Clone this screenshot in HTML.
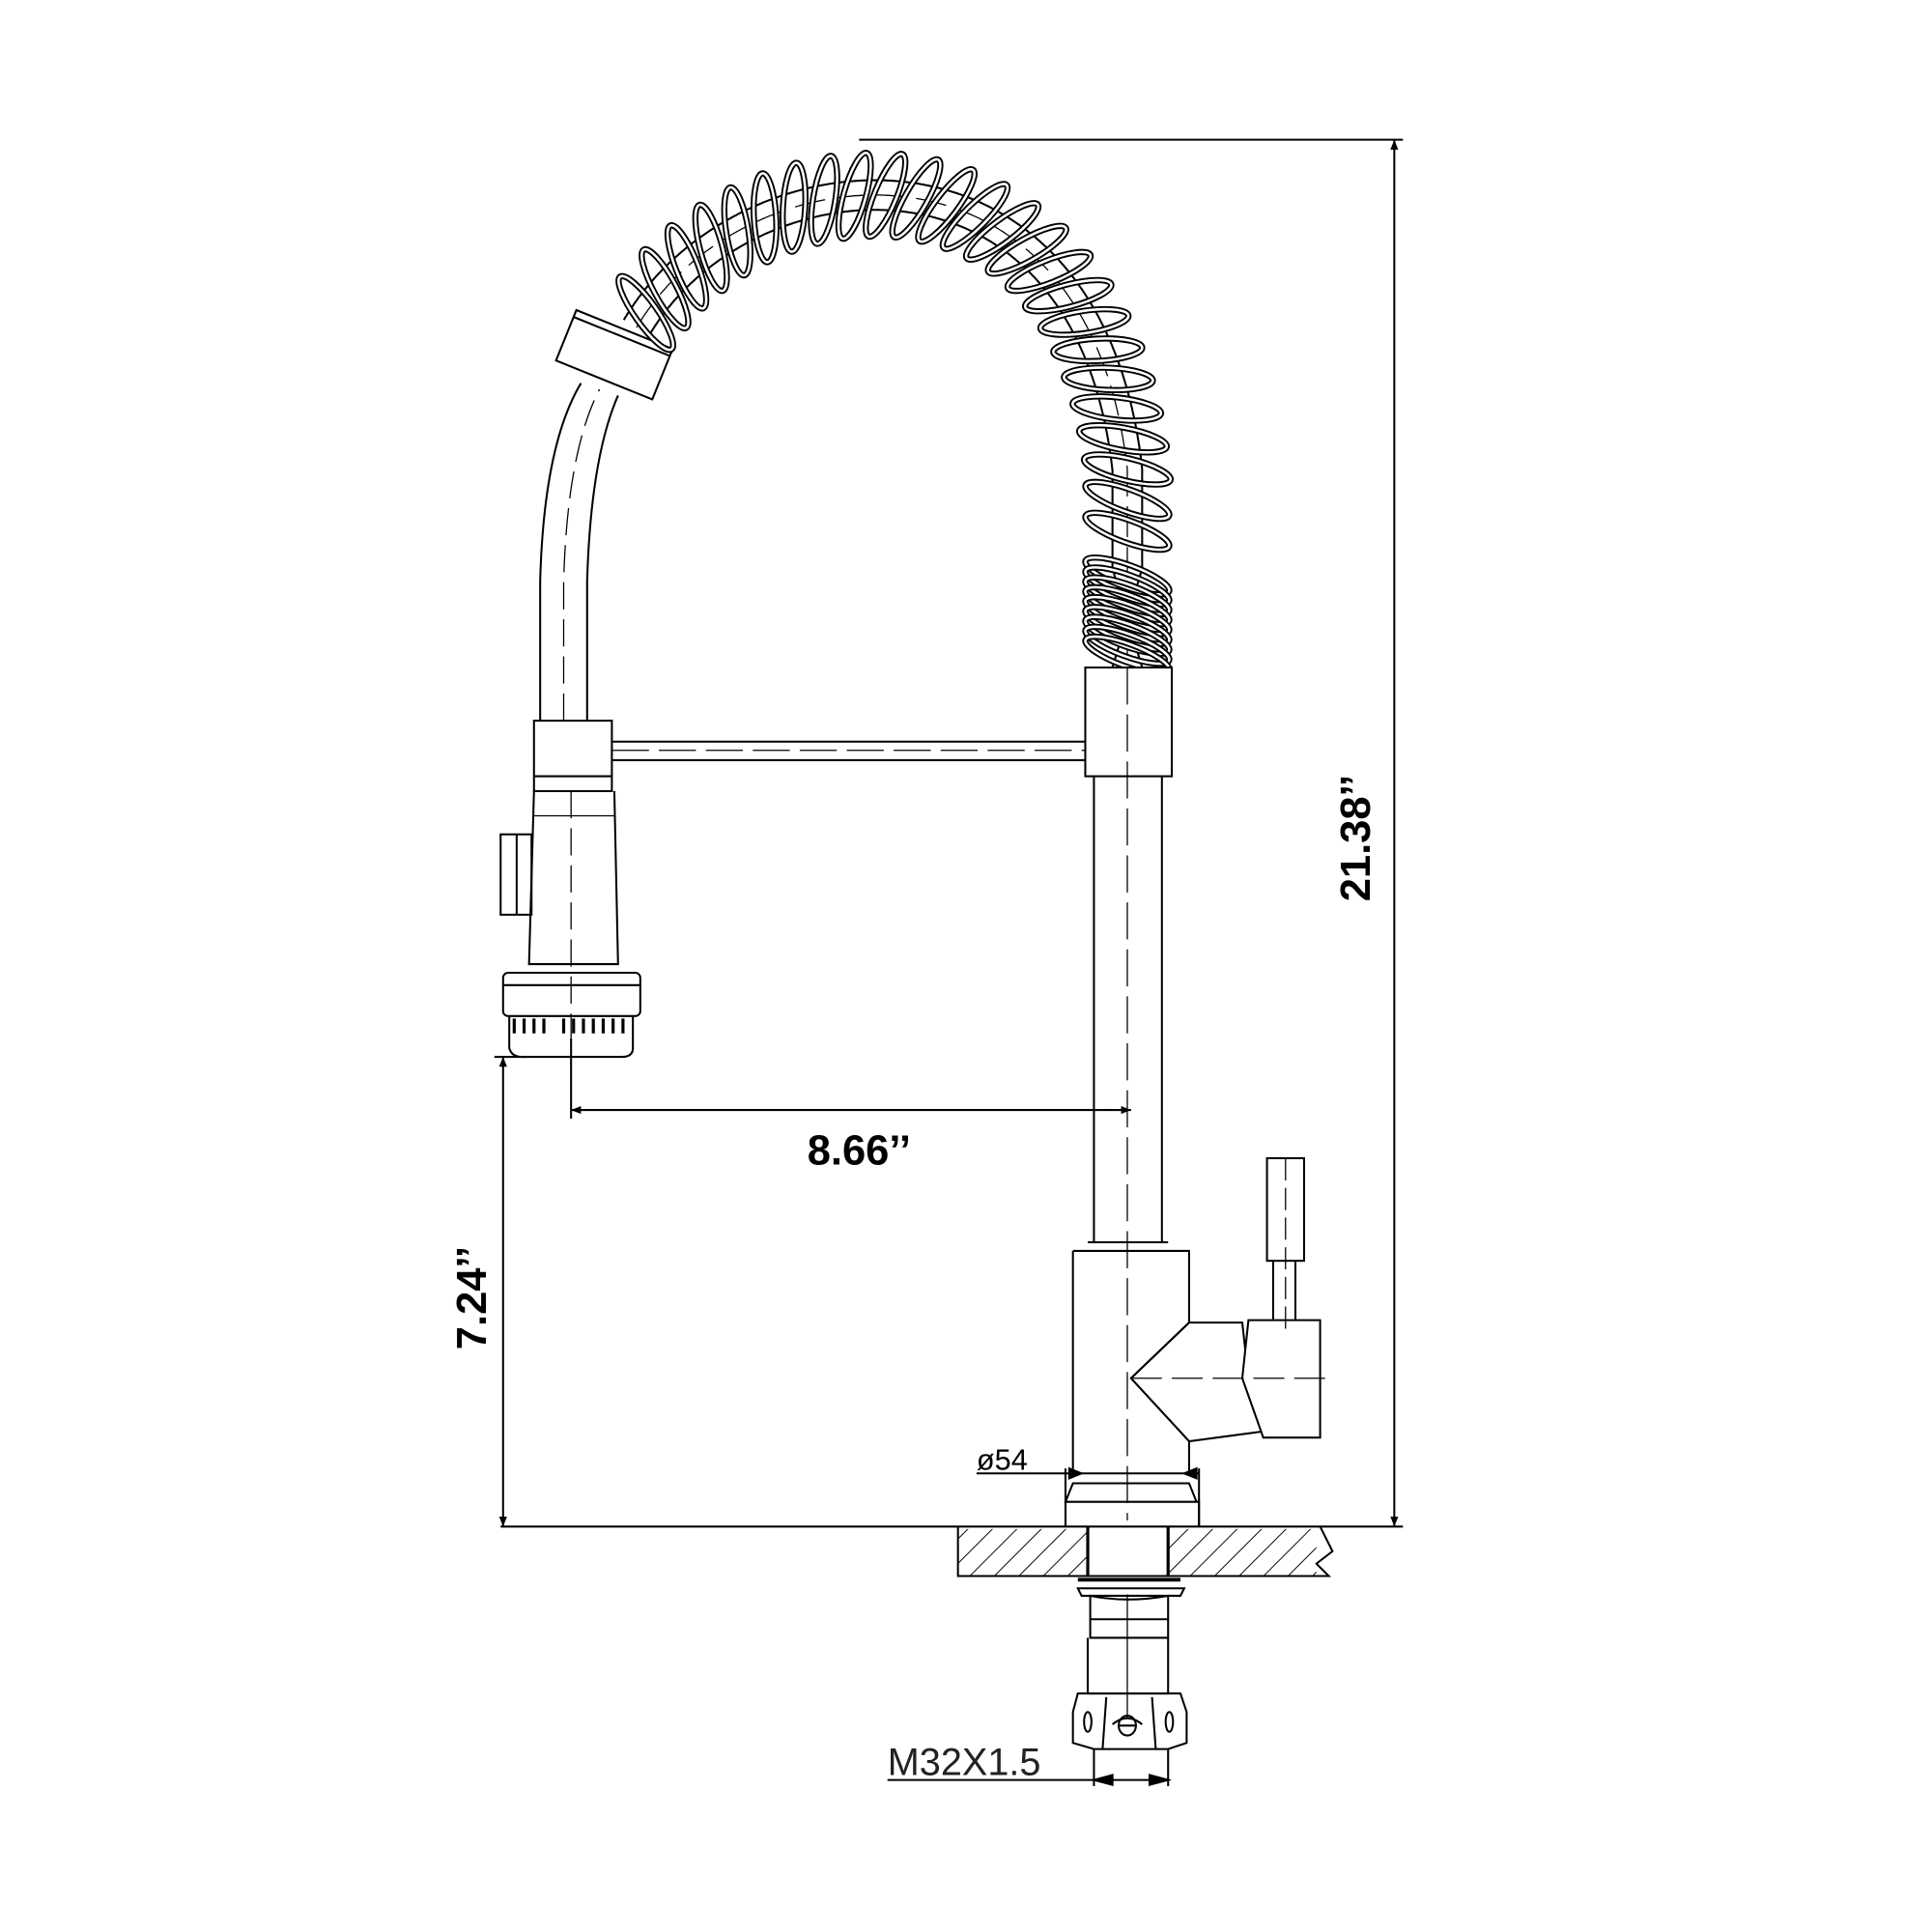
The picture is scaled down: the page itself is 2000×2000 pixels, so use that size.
<!DOCTYPE html>
<html><head><meta charset="utf-8"><style>
html,body{margin:0;padding:0;background:#fff}
svg{display:block}
text{font-family:"Liberation Sans",sans-serif}
</style></head><body>
<svg id="s" width="2000" height="2000" viewBox="0 0 1563 1563" xmlns="http://www.w3.org/2000/svg">
<defs>
<marker id="a" viewBox="0 0 10 10" refX="10" refY="5" markerWidth="14" markerHeight="8" orient="auto-start-reverse" markerUnits="userSpaceOnUse"><path d="M0,1 L10,5 L0,9 z" fill="#000"/></marker>
<pattern id="h" width="14" height="14" patternUnits="userSpaceOnUse" patternTransform="rotate(45)"><line x1="0" y1="0" x2="0" y2="14" stroke="#000" stroke-width="1.5"/></pattern>
</defs>
<g fill="none" stroke="#000" stroke-width="1.6">
<line x1="695" y1="113" x2="1135" y2="113"/>
<line x1="1128" y1="113" x2="1128" y2="1235" marker-start="url(#a)" marker-end="url(#a)"/>
<line x1="405" y1="1235" x2="1135" y2="1235"/>
<line x1="400" y1="855" x2="425" y2="855"/>
<line x1="407" y1="855" x2="407" y2="1235" marker-start="url(#a)" marker-end="url(#a)"/>
<line x1="462" y1="840" x2="462" y2="905"/>
<line x1="462" y1="898" x2="915" y2="898" marker-start="url(#a)" marker-end="url(#a)"/>
<path d="M437,583 L437,470 Q440,360 470,310"/>
<path d="M475,583 L475,470 Q478,370 500,320"/>
<path d="M456,583 L456,470 Q459,365 485,315" stroke-dasharray="22,8" stroke-width="1"/>
<g transform="translate(497,287) rotate(22)">
<rect x="-42" y="-22" width="84" height="44" fill="#fff"/>
<line x1="-42" y1="-16" x2="42" y2="-16"/>
</g>
<g id="coil"></g>
<rect x="878" y="540" width="70" height="88" fill="#fff"/>
<line x1="885" y1="628" x2="885" y2="1005"/>
<line x1="940" y1="628" x2="940" y2="1005"/>
<line x1="495" y1="600" x2="878" y2="600"/>
<line x1="495" y1="615" x2="878" y2="615"/>
<line x1="495" y1="607" x2="878" y2="607" stroke-dasharray="30,8" stroke-width="1"/>
<rect x="432" y="583" width="63" height="57" fill="#fff"/>
<line x1="432" y1="628" x2="495" y2="628"/>
<path d="M432,640 L428,780 L500,780 L497,640"/>
<path d="M432,660 L497,660" stroke-width="1"/>
<rect x="405" y="675" width="25" height="65"/>
<line x1="418" y1="675" x2="418" y2="740"/>
<rect x="407" y="787" width="111" height="35" rx="4" fill="#fff"/>
<line x1="407" y1="797" x2="518" y2="797"/>
<path d="M412,822 L412,848 Q414,855 422,855 L503,855 Q512,855 512,848 L512,822"/>
<g stroke-width="2.5" id="teeth"></g>
<line x1="462" y1="640" x2="462" y2="840" stroke-dasharray="22,8" stroke-width="1"/>
<line x1="880" y1="1005" x2="945" y2="1005"/>
<path d="M868,1012 L962,1012 L962,1070 M868,1012 L868,1190 M962,1165 L962,1190"/>
<line x1="912" y1="540" x2="912" y2="1230" stroke-dasharray="30,8" stroke-width="1"/>
<path d="M962,1070 L1005,1070 L1010,1115 L1022,1158 L962,1166 L915,1115 Z" fill="#fff"/>
<path d="M962,1070 L915,1115" />
<path d="M1010,1068 L1068,1068 L1068,1163 L1022,1163 L1005,1115 Z" fill="#fff"/>
<rect x="1025" y="937" width="30" height="83" fill="#fff"/>
<path d="M1030,1020 L1030,1068 M1048,1020 L1048,1068"/>
<line x1="1040" y1="937" x2="1040" y2="1075" stroke-dasharray="18,6" stroke-width="1"/>
<line x1="915" y1="1115" x2="1072" y2="1115" stroke-dasharray="25,8" stroke-width="1"/>
<line x1="790" y1="1192" x2="970" y2="1192"/>
<path d="M862,1188 L862,1235 M970,1188 L970,1235"/>
<path d="M875,1192 L865,1188 L865,1196 Z M958,1192 L968,1188 L968,1196 Z" fill="#000"/>
<path d="M868,1200 L962,1200 L968,1215 L862,1215 Z M862,1215 L970,1215 L970,1235 M862,1215 L862,1235"/>
<rect x="775" y="1237" width="105" height="38" fill="url(#h)" stroke="none"/>
<rect x="945" y="1237" width="120" height="38" fill="url(#h)" stroke="none"/>
<path d="M775,1235 L775,1275 L1075,1275 L1065,1265 L1078,1255 L1068,1235"/>
<path d="M880,1235 L880,1275 M945,1235 L945,1275" stroke-width="2.5"/>
<path d="M872,1278 L955,1278" stroke-width="3"/>
<path d="M872,1285 L958,1285 L955,1291 L875,1291 Z"/>
<path d="M882,1291 Q912,1297 945,1291 L945,1310 L882,1310 Z"/>
<path d="M882,1310 L882,1325 L945,1325 L945,1310"/>
<path d="M880,1325 L880,1370 L945,1370 L945,1325"/>
<path d="M872,1370 L955,1370 L960,1385 L960,1410 L945,1415 L885,1415 L868,1410 L868,1385 Z"/>
<path d="M895,1373 L892,1415 M932,1373 L935,1415 M900,1395 Q912,1385 924,1395"/>
<ellipse cx="880" cy="1393" rx="3" ry="8"/>
<ellipse cx="912" cy="1396" rx="7" ry="8"/>
<line x1="905" y1="1396" x2="919" y2="1396"/>
<ellipse cx="946" cy="1393" rx="3" ry="8"/>
<line x1="912" y1="1290" x2="912" y2="1390" stroke-width="1"/>
<line x1="718" y1="1440" x2="945" y2="1440"/>
<path d="M885,1415 L885,1445 M945,1415 L945,1445"/>
<path d="M885,1440 L900,1436 L900,1444 Z M945,1440 L930,1436 L930,1444 Z" fill="#000"/>
</g>
<text x="1108" y="678" font-size="34" font-weight="bold" transform="rotate(-90 1108 678)" text-anchor="middle">21.38’’</text>
<text x="393" y="1050" font-size="34" font-weight="bold" transform="rotate(-90 393 1050)" text-anchor="middle">7.24’’</text>
<text x="695" y="942" font-size="34" font-weight="bold" text-anchor="middle">8.66’’</text>
<text x="790" y="1189" font-size="24">ø54</text>
<text x="718" y="1436" font-size="31" fill="#222">M32X1.5</text>
</svg>
<script>
(function(){
var ns="http://www.w3.org/2000/svg";
var coil=document.getElementById('coil');
function bz(t){var P=[[515,265],[600,120],[880,90],[912,380]];var u=1-t;
return [u*u*u*P[0][0]+3*u*u*t*P[1][0]+3*u*t*t*P[2][0]+t*t*t*P[3][0],
u*u*u*P[0][1]+3*u*u*t*P[1][1]+3*u*t*t*P[2][1]+t*t*t*P[3][1]];}
var pts=[];for(var i=0;i<=400;i++)pts.push(bz(i/400));
pts.push([912,460]);
function off(o){var s="";for(var i=0;i<pts.length;i++){var a=pts[Math.max(0,i-1)],b=pts[Math.min(pts.length-1,i+1)];var dx=b[0]-a[0],dy=b[1]-a[1],L=Math.hypot(dx,dy)||1;var nx=-dy/L,ny=dx/L;s+=(i?"L":"M")+(pts[i][0]+nx*o).toFixed(1)+","+(pts[i][1]+ny*o).toFixed(1);}return s;}
function mk(tag,at){var e=document.createElementNS(ns,tag);for(var k in at)e.setAttribute(k,at[k]);coil.appendChild(e);return e;}
mk('path',{d:off(-12)+"L900,540"});mk('path',{d:off(12)+"L924,540"});
mk('path',{d:off(0)+"L912,540","stroke-dasharray":"25,8","stroke-width":"1"});
var acc=[0];for(var i=1;i<pts.length;i++)acc.push(acc[i-1]+Math.hypot(pts[i][0]-pts[i-1][0],pts[i][1]-pts[i-1][1]));
var total=acc[acc.length-1];
function at(s){for(var i=1;i<acc.length;i++)if(acc[i]>=s){var f=(s-acc[i-1])/(acc[i]-acc[i-1]);return [pts[i-1][0]+f*(pts[i][0]-pts[i-1][0]),pts[i-1][1]+f*(pts[i][1]-pts[i-1][1]),Math.atan2(pts[i][1]-pts[i-1][1],pts[i][0]-pts[i-1][0])];}return null;}
var list=[];for(var s=14;s<total-10;s+=25)list.push(at(s));
for(var y=466;y<535;y+=8)list.push([912,y,Math.PI/2]);
list.forEach(function(p){var ang=p[2]*180/Math.PI+90+20;
var g=document.createElementNS(ns,'g');g.setAttribute('transform','translate('+p[0].toFixed(1)+','+p[1].toFixed(1)+') rotate('+ang.toFixed(1)+')');
var e1=document.createElementNS(ns,'ellipse');e1.setAttribute('rx','36');e1.setAttribute('ry','9');e1.setAttribute('stroke-width','5');e1.setAttribute('stroke','#000');
var e2=document.createElementNS(ns,'ellipse');e2.setAttribute('rx','36');e2.setAttribute('ry','9');e2.setAttribute('stroke-width','2');e2.setAttribute('stroke','#fff');
g.appendChild(e1);g.appendChild(e2);coil.appendChild(g);});
var t=document.getElementById('teeth');
for(var x=416;x<512;x+=8){if(x>440&&x<450)continue;var l=document.createElementNS(ns,'line');l.setAttribute('x1',x);l.setAttribute('x2',x);l.setAttribute('y1',824);l.setAttribute('y2',836);t.appendChild(l);}
})();
</script>
</body></html>
